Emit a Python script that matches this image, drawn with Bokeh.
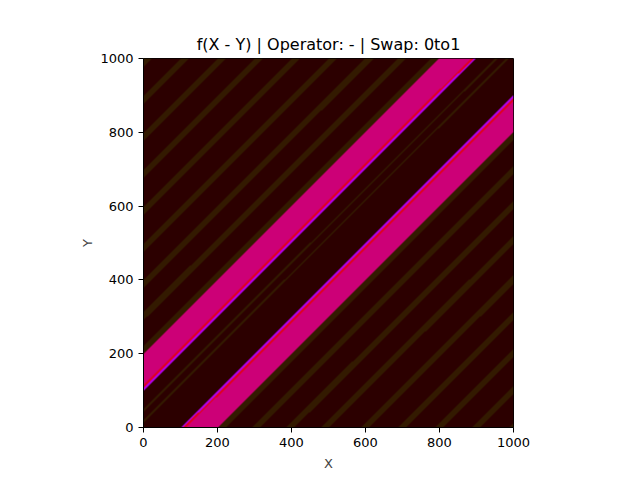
import numpy as np
from bokeh.plotting import figure
from bokeh.models import Range1d, FixedTicker
from bokeh.embed import file_html
from bokeh.resources import INLINE

# ---- data: colour bands of f(X - Y), as intervals of d = X - Y ----
band_lo = [-200, -116, -108, 100, 108, 116, -50, -20]
band_hi = [-116, -108, -100, 108, 116, 200, -43, -13]
band_col = ["#cc0077", "#e00020", "#b000e8", "#b000e8", "#e00020", "#cc0077", "#331a00", "#331a00"]

stripe_lo = [-998, -898, -798, -698, -598, -498, -400, -312, -222, 200, 292, 386, 480, 588, 688, 788, 888, 988]
stripe_hi = [-976, -876, -776, -676, -576, -476, -378, -290, -200, 222, 314, 408, 502, 610, 710, 810, 910, 1000]
stripe_col = "#331a00"
background_col = "#2c0000"

x_ticks = [0, 200, 400, 600, 800, 1000]
y_ticks = [0, 200, 400, 600, 800, 1000]

NX, NY = 370, 369
xs = (np.arange(NX) + 0.5) * 1000.0 / NX
ys = (np.arange(NY) + 0.5) * 1000.0 / NY
X, Y = np.meshgrid(xs, ys)
D = X - Y


def hex_rgba(h):
    h = h.lstrip("#")
    r, g, b = int(h[0:2], 16), int(h[2:4], 16), int(h[4:6], 16)
    return np.uint32(r | (g << 8) | (b << 16) | (255 << 24))


img = np.full((NY, NX), hex_rgba(background_col), dtype=np.uint32)
for lo, hi in zip(stripe_lo, stripe_hi):
    img[(D >= lo) & (D < hi)] = hex_rgba(stripe_col)
for lo, hi, c in zip(band_lo, band_hi, band_col):
    img[(D >= lo) & (D < hi)] = hex_rgba(c)

p = figure(frame_width=370, frame_height=369, output_backend="svg", toolbar_location=None,
           x_range=Range1d(0, 1000), y_range=Range1d(0, 1000),
           min_border_left=143, min_border_right=111, min_border_top=58, min_border_bottom=45,
           title="f(X - Y) | Operator: - | Swap: 0to1")
p.image_rgba(image=[img], x=0, y=0, dw=1000, dh=1000)

p.title.align = "center"
p.title.text_font = "DejaVu Sans"
p.title.text_font_size = "16px"
p.title.text_font_style = "normal"
p.title.text_color = "black"

p.xgrid.visible = False
p.ygrid.visible = False
p.outline_line_color = "black"
p.outline_line_width = 1
p.background_fill_color = "white"
p.border_fill_color = "white"

for ax, ticks, lab in ((p.xaxis[0], x_ticks, "X"), (p.yaxis[0], y_ticks, "Y")):
    ax.ticker = FixedTicker(ticks=ticks)
    ax.axis_label = lab
    ax.axis_label_text_font = "DejaVu Sans"
    ax.axis_label_text_font_size = "13px"
    ax.axis_label_text_font_style = "normal"
    ax.major_label_text_font = "DejaVu Sans"
    ax.major_label_text_font_size = "13px"
    ax.major_label_text_color = "black"
    ax.major_tick_out = 5
    ax.major_tick_in = 0
    ax.minor_tick_line_color = None
    ax.axis_line_color = "black"
    ax.major_tick_line_color = "black"
p.xaxis.axis_label_standoff = 6
p.yaxis.axis_label_standoff = 2
p.yaxis.major_label_orientation = "horizontal"

open("out.html", "w").write(file_html(p, INLINE))
